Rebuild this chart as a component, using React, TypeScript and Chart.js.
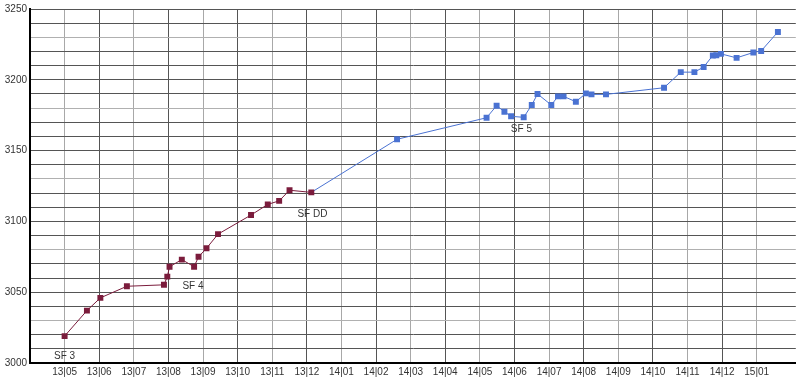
import React, { useEffect, useRef } from 'react';
import { Chart, registerables } from 'chart.js';

Chart.register(...registerables);

// Month axis labels (first one at the y-axis, unlabeled)
const monthLabels = ['', '13|05', '13|06', '13|07', '13|08', '13|09', '13|10', '13|11', '13|12',
  '14|01', '14|02', '14|03', '14|04', '14|05', '14|06', '14|07', '14|08', '14|09', '14|10',
  '14|11', '14|12', '15|01'];

const yLabelValues = [3000, 3050, 3100, 3150, 3200, 3250];

const redDates = ['2013-05-01', '2013-05-21', '2013-06-02', '2013-06-25', '2013-07-28', '2013-07-31',
  '2013-08-02', '2013-08-13', '2013-08-24', '2013-08-28', '2013-09-04', '2013-09-14', '2013-10-13',
  '2013-10-28', '2013-11-07', '2013-11-16', '2013-12-05'];
const redValues = [3019, 3037, 3046, 3054.2, 3055.2, 3061, 3068, 3073, 3068, 3075, 3081, 3091, 3104.5,
  3112, 3114.5, 3122, 3120.5];

const blueDates = ['2013-12-05', '2014-02-18', '2014-05-07', '2014-05-16', '2014-05-23', '2014-05-29',
  '2014-06-09', '2014-06-16', '2014-06-21', '2014-07-03', '2014-07-09', '2014-07-14', '2014-07-25',
  '2014-08-03', '2014-08-08', '2014-08-21', '2014-10-11', '2014-10-26', '2014-11-07', '2014-11-15',
  '2014-11-23', '2014-11-26', '2014-11-30', '2014-12-14', '2014-12-29', '2015-01-05', '2015-01-20'];
const blueValues = [3120.5, 3158, 3173.2, 3181.7, 3177.5, 3174.2, 3173.5, 3182.2, 3190, 3182.2, 3188.3,
  3188.3, 3184.5, 3190.4, 3189.7, 3189.7, 3194.4, 3205.4, 3205.4, 3209, 3217.2, 3217.4, 3218.3, 3215.5,
  3219.3, 3220.4, 3233.8];

const noteTexts = ['SF 3', 'SF 4', 'SF DD', 'SF 5'];
const noteDates = ['2013-05-01', '2013-08-23', '2013-12-06', '2014-06-07'];
const noteValues = [3004.7, 3054, 3105.4, 3164.8];

const RED = '#7b1c3c';
const BLUE = '#4a72d2';
const FONT = "'Liberation Sans', Arial, sans-serif";

function monthIndex(d: string): number {
  const [y, m, day] = d.split('-').map(Number);
  const dim = new Date(y, m, 0).getDate();
  return (y - 2013) * 12 + (m - 5) + (day - 1) / dim;
}

const notesPlugin = {
  id: 'notes',
  afterDatasetsDraw(chart: any) {
    const { ctx, scales } = chart;
    ctx.save();
    ctx.font = `10px ${FONT}`;
    ctx.fillStyle = '#333';
    ctx.textAlign = 'center';
    ctx.textBaseline = 'middle';
    noteTexts.forEach((t, i) => {
      const x = scales.x.getPixelForValue(monthIndex(noteDates[i]));
      const y = scales.y.getPixelForValue(noteValues[i]);
      ctx.fillText(t, x, y);
    });
    ctx.restore();
  },
};

export default function App() {
  const ref = useRef<HTMLCanvasElement | null>(null);
  useEffect(() => {
    if (!ref.current) return;
    const chart = new Chart(ref.current, {
      type: 'line',
      data: {
        datasets: [
          {
            data: redDates.map((d, i) => ({ x: monthIndex(d), y: redValues[i] })),
            borderColor: RED,
            backgroundColor: RED,
            borderWidth: 1,
            pointStyle: 'rect',
            pointRadius: 4.2,
            pointBorderWidth: 0,
            tension: 0,
          },
          {
            data: blueDates.map((d, i) => ({ x: monthIndex(d), y: blueValues[i] })),
            borderColor: BLUE,
            backgroundColor: BLUE,
            borderWidth: 1,
            pointStyle: 'rect',
            pointRadius: blueDates.map((_, i) => (i === 0 ? 0 : 4.2)),
            pointBorderWidth: 0,
            tension: 0,
          },
        ],
      },
      options: {
        responsive: false,
        animation: false,
        layout: { padding: { top: 7, right: 0, left: 0, bottom: 0 } },
        plugins: { legend: { display: false }, tooltip: { enabled: false } },
        scales: {
          x: {
            type: 'linear',
            min: -1,
            max: 21.13,
            afterBuildTicks: (s: any) => {
              s.ticks = monthLabels.map((_, i) => ({ value: i - 1 }));
            },
            afterFit: (s: any) => { s.height = 19; },
            ticks: {
              autoSkip: false,
              maxRotation: 0,
              padding: 3,
              color: '#333',
              font: { size: 10, family: FONT },
              callback: (v: any) => monthLabels[Math.round(Number(v)) + 1] ?? '',
            },
            grid: {
              drawTicks: false,
              color: (c: any) => (Math.round(c.tick?.value ?? 0) % 2 === 0 ? '#a8a8a8' : '#555'),
            },
            border: { color: '#000', width: 2 },
          },
          y: {
            min: 3000,
            max: 3250,
            afterFit: (s: any) => { s.width = 30; },
            ticks: {
              stepSize: 10,
              autoSkip: false,
              padding: 3,
              color: '#333',
              font: { size: 10, family: FONT },
              callback: (v: any) => (yLabelValues.includes(Number(v)) ? String(v) : ''),
            },
            grid: {
              drawTicks: false,
              color: (c: any) => ((c.tick?.value ?? 0) % 50 === 30 ? '#b0b0b0' : '#555'),
            },
            border: { color: '#000', width: 2 },
          },
        },
      },
      plugins: [notesPlugin],
    } as any);
    return () => chart.destroy();
  }, []);
  return (
    <div style={{ position: 'absolute', left: 0, top: 0, width: 800, height: 382, background: '#fff' }}>
      <canvas ref={ref} width={800} height={382} style={{ display: 'block' }} />
    </div>
  );
}
